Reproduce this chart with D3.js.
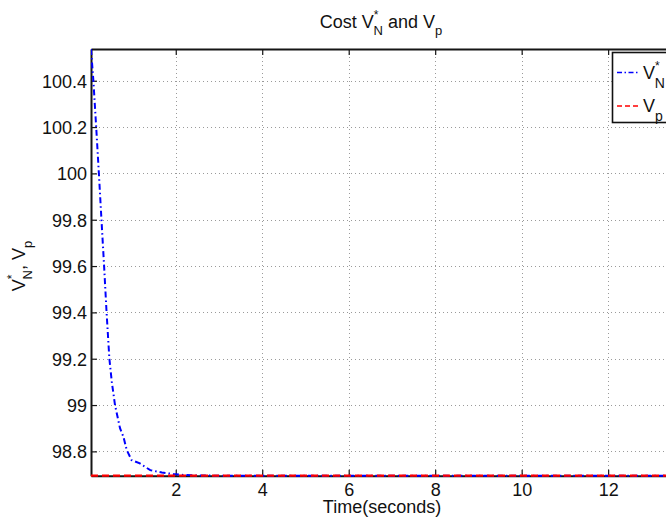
<!DOCTYPE html>
<html>
<head>
<meta charset="utf-8">
<script src="https://cdn.jsdelivr.net/npm/d3@7"></script>
<style>
  html, body { margin: 0; padding: 0; background: #fff; }
  svg { display: block; }
  text { font-family: "Liberation Sans", Arial, Helvetica, sans-serif; fill: #111; }
</style>
</head>
<body>
<svg id="chart" width="666" height="519"></svg>
<script>
// ---- data ----
const timeVN = [0.04, 0.095, 0.16, 0.222, 0.282, 0.343, 0.40, 0.465, 0.521, 0.595, 0.711, 0.79, 0.866, 0.98, 1.17, 1.41, 1.68, 1.94, 2.18, 2.5, 3.0, 13.5];
const costVN = [100.537, 100.4, 100.2, 100.0, 99.8, 99.6, 99.4, 99.2, 99.1, 99.0, 98.9, 98.863, 98.806, 98.762, 98.748, 98.719, 98.709, 98.702, 98.698, 98.696, 98.695, 98.695];
const timeVp = [0.04, 13.5];
const costVp = [98.695, 98.695];
const xTicks = [2, 4, 6, 8, 10, 12];
const yTicks = [98.8, 99, 99.2, 99.4, 99.6, 99.8, 100, 100.2, 100.4];

// ---- layout ----
const L = 91, T = 49, R = 673, B = 475.7;
const svg = d3.select("#chart");

const x = d3.scaleLinear().domain([d3.min(timeVN), d3.max(timeVN)]).range([L, R]);
const y = d3.scaleLinear().domain(d3.extent(costVN.concat(costVp))).range([B, T]);

// clip
svg.append("defs").append("clipPath").attr("id", "clip")
  .append("rect").attr("x", L).attr("y", T - 2).attr("width", R - L).attr("height", B - T + 4);

// grid
const grid = svg.append("g").attr("stroke", "#9a9a9a").attr("stroke-width", 1).attr("stroke-dasharray", "1,3");
grid.selectAll(".gx").data(xTicks).join("line")
  .attr("x1", d => Math.round(x(d)) + 0.5).attr("x2", d => Math.round(x(d)) + 0.5)
  .attr("y1", T).attr("y2", B);
grid.selectAll(".gy").data(yTicks).join("line")
  .attr("y1", d => Math.round(y(d)) + 0.5).attr("y2", d => Math.round(y(d)) + 0.5)
  .attr("x1", L).attr("x2", R);

// axes with inward ticks
const axisColor = "#151515";
const gxB = svg.append("g").attr("transform", `translate(0,${B})`)
  .call(d3.axisBottom(x).tickValues(xTicks).tickSizeInner(-6).tickSizeOuter(0).tickPadding(14).tickFormat(d3.format("d")));
const gxT = svg.append("g").attr("transform", `translate(0,${T})`)
  .call(d3.axisTop(x).tickValues(xTicks).tickSizeInner(-6).tickSizeOuter(0).tickFormat(""));
const gyL = svg.append("g").attr("transform", `translate(${L},0)`)
  .call(d3.axisLeft(y).tickValues(yTicks).tickSizeInner(-6).tickSizeOuter(0).tickPadding(4).tickFormat(d => d3.format("")(+d.toFixed(1))));
[gxB, gxT, gyL].forEach(g => {
  g.select(".domain").attr("stroke", axisColor).attr("stroke-width", 2);
  g.selectAll(".tick line").attr("stroke", axisColor).attr("stroke-width", 1.2);
  g.selectAll(".tick text").attr("font-size", 18).attr("fill", "#111")
    .style("font-family", "'Liberation Sans', Arial, sans-serif");
});
gyL.selectAll(".tick text").attr("dy", "0.36em").attr("x", -4);
gxB.selectAll(".tick text").attr("dy", "0.71em").attr("y", 8);

// lines
const plot = svg.append("g").attr("clip-path", "url(#clip)");
const lineGen = d3.line().x(d => x(d[0])).y(d => y(d[1]));
plot.append("path").datum(d3.zip(timeVN, costVN))
  .attr("d", lineGen).attr("fill", "none").attr("stroke", "#0000ff")
  .attr("stroke-width", 2).attr("stroke-dasharray", "6,3,1.5,3");
plot.append("path").datum(d3.zip(timeVp, costVp))
  .attr("d", lineGen).attr("fill", "none").attr("stroke", "#ff0000")
  .attr("stroke-width", 2.2).attr("stroke-dasharray", "7,4");

// title
const title = svg.append("text").attr("x", 381).attr("y", 27.5).attr("text-anchor", "middle").attr("font-size", 18);
title.append("tspan").text("Cost V");
title.append("tspan").attr("font-size", 12).attr("dy", -9).attr("dx", 0).text("*");
title.append("tspan").attr("font-size", 13).attr("dy", 16).attr("dx", -5).text("N");
title.append("tspan").attr("dy", -7).text(" and V");
title.append("tspan").attr("font-size", 13).attr("dy", 7).text("p");

// x label
svg.append("text").attr("x", 382).attr("y", 513).attr("text-anchor", "middle").attr("font-size", 18).text("Time(seconds)");

// y label
const yl = svg.append("text").attr("transform", "translate(25,266) rotate(-90)").attr("text-anchor", "middle").attr("font-size", 18);
yl.append("tspan").text("V");
yl.append("tspan").attr("font-size", 12).attr("dy", -9).text("*");
yl.append("tspan").attr("font-size", 13).attr("dy", 16).attr("dx", -5).text("N");
yl.append("tspan").attr("dy", -7).text(", V");
yl.append("tspan").attr("font-size", 13).attr("dy", 7).text("p");

// legend
const lg = svg.append("g");
lg.append("rect").attr("x", 612.5).attr("y", 52.5).attr("width", 80).attr("height", 70)
  .attr("fill", "#fff").attr("stroke", "#111").attr("stroke-width", 1.6);
const legendItems = [
  { color: "#0000ff", dash: "5,2.5,1.5,2.5", y: 72.5, name: "V", sub: "N", sup: "*" },
  { color: "#ff0000", dash: "5,3", y: 106, name: "V", sub: "p", sup: "" }
];
legendItems.forEach(it => {
  lg.append("line").attr("x1", 617).attr("x2", 640).attr("y1", it.y).attr("y2", it.y)
    .attr("stroke", it.color).attr("stroke-width", 1.5).attr("stroke-dasharray", it.dash);
  const t = lg.append("text").attr("x", 643).attr("y", it.y + 6).attr("font-size", 18);
  t.append("tspan").text(it.name);
  if (it.sup) {
    t.append("tspan").attr("font-size", 12).attr("dy", -9).text(it.sup);
    t.append("tspan").attr("font-size", 14).attr("dy", 18).attr("dx", -5).text(it.sub);
  } else {
    t.append("tspan").attr("font-size", 14).attr("dy", 9).text(it.sub);
  }
});
</script>
</body>
</html>
